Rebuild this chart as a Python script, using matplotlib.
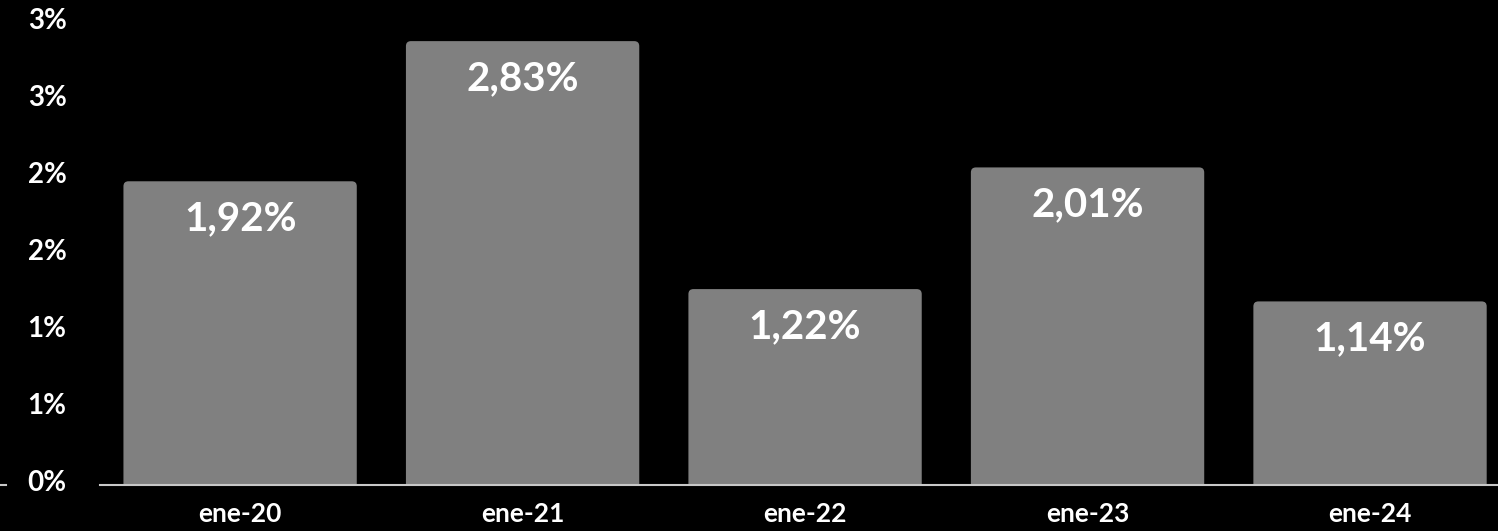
import numpy as np
import matplotlib
matplotlib.use("Agg")
import matplotlib.pyplot as plt
from matplotlib.patches import FancyBboxPatch
from matplotlib.lines import Line2D
from matplotlib.ticker import FuncFormatter
from matplotlib.transforms import ScaledTranslation

# data: yearly rate, January of each year
periods = ["ene-20", "ene-21", "ene-22", "ene-23", "ene-24"]
rates = [1.92, 2.83, 1.22, 2.01, 1.14]
y_ticks = [0, 0.5, 1.0, 1.5, 2.0, 2.5, 3.0]

BG = "black"
BAR = "#808080"
AXIS = "#c8c8c8"

plt.rcParams["font.family"] = ["Lato", "DejaVu Sans"]
plt.rcParams["font.weight"] = "bold"

W, H = 1498, 531
fig = plt.figure(figsize=(W / 100, H / 100), dpi=100, facecolor=BG)
ax = fig.add_axes([100 / W, 46 / H, 1 - 100 / W, 485 / H])
ax.set_facecolor(BG)

base = -0.052
ax.set_ylim(base, 3.097)
ax.set_xlim(-0.496, 4.453)

x = np.arange(len(periods))
bars = ax.bar(x, rates, width=0.826, color=BAR)

# swap plain rectangles for ones with rounded top corners
px_x = (ax.get_xlim()[1] - ax.get_xlim()[0]) / (W - 100)
px_y = (ax.get_ylim()[1] - ax.get_ylim()[0]) / 485
for rect in bars:
    rect.set_visible(False)
    x0, w, h = rect.get_x(), rect.get_width(), rect.get_height()
    low = base - 0.1
    p = FancyBboxPatch((x0, low), w, h - low,
                       boxstyle=f"round,pad=0,rounding_size={5 * px_x}",
                       mutation_aspect=px_y / px_x,
                       facecolor=BAR, edgecolor="none", clip_on=True)
    ax.add_patch(p)

for xi, v in zip(x, rates):
    ax.annotate(f"{v:.2f}".replace(".", ",") + "%", (xi, v),
                xytext=(0, -27), textcoords="offset points",
                ha="center", va="center", color="white",
                fontsize=29, fontweight="bold")

ax.set_yticks(y_ticks)
ax.yaxis.set_major_formatter(FuncFormatter(lambda v, _: f"{int(np.floor(v + 0.5))}%"))
ax.set_xticks(x)
ax.set_xticklabels(periods)
ax.tick_params(axis="y", length=0, pad=24, labelsize=20, labelcolor="white")
ax.tick_params(axis="x", length=0, pad=12, labelsize=19, labelcolor="white")
for lab in ax.get_xticklabels():
    lab.set_fontweight("bold")
# y labels sit a few pixels below their tick values
for lab in ax.get_yticklabels():
    lab.set_fontweight("bold")
    lab.set_transform(lab.get_transform() + ScaledTranslation(0, -4 / 100, fig.dpi_scale_trans))

for side in ["top", "right", "left"]:
    ax.spines[side].set_visible(False)
ax.spines["bottom"].set_color(AXIS)
ax.spines["bottom"].set_linewidth(1.5)

# short stub of the baseline at the far left
fig.add_artist(Line2D([0, 6 / W], [46 / H, 46 / H], color=AXIS, lw=1.5))

fig.savefig("out.png", dpi=100, facecolor=BG)
